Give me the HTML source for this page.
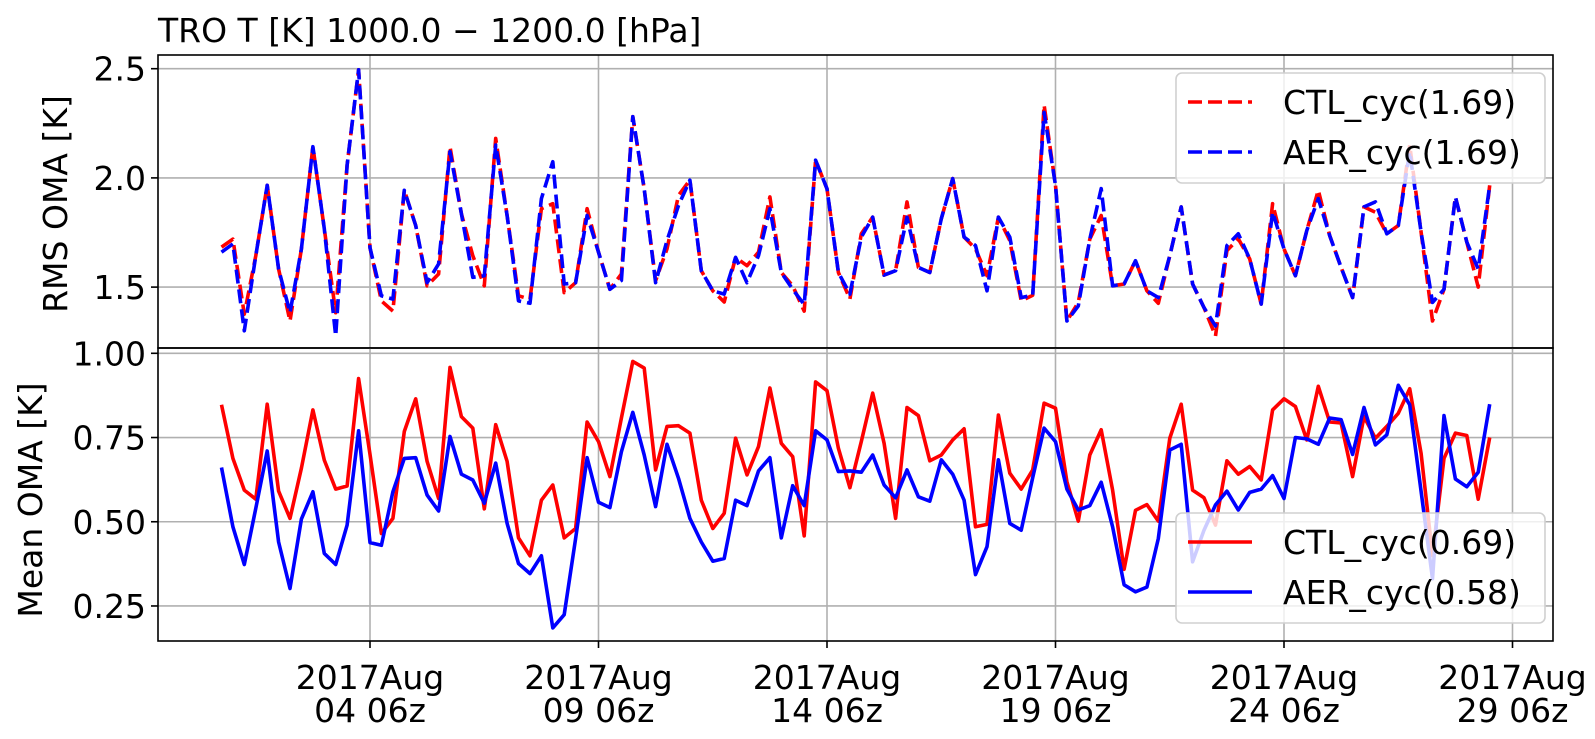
<!DOCTYPE html>
<html><head><meta charset="utf-8"><style>
html,body{margin:0;padding:0;background:#fff;}
svg{display:block;font-family:"DejaVu Sans","Liberation Sans",sans-serif;}
</style></head><body>
<svg id="chart" width="1595" height="739" viewBox="0 0 1595 739" xmlns="http://www.w3.org/2000/svg">
<rect x="0" y="0" width="1595" height="739" fill="#fff"/>
<text x="158" y="42" font-size="33" fill="#000">TRO T [K] 1000.0 − 1200.0 [hPa]</text>
<g id="topPanel"></g>
<g id="botPanel"></g>
</svg>
<script>
const xTickLabels1 = ["2017Aug","2017Aug","2017Aug","2017Aug","2017Aug","2017Aug"];
const xTickLabels2 = ["04 06z","09 06z","14 06z","19 06z","24 06z","29 06z"];
const xTickSteps = [13,33,53,73,93,113];
const rmsTicks = [1.5,2.0,2.5];
const rmsTickLabels = ["1.5","2.0","2.5"];
const meanTicks = [0.25,0.5,0.75,1.0];
const meanTickLabels = ["0.25","0.50","0.75","1.00"];
const ctlRms = [1.683,1.72,1.376,1.644,1.966,1.583,1.345,1.675,2.143,1.767,1.383,2.058,2.495,1.68,1.437,1.39,1.943,1.782,1.506,1.56,2.143,1.836,1.644,1.506,2.181,1.828,1.46,1.445,1.859,1.882,1.475,1.52,1.859,1.66,1.49,1.56,2.28,1.95,
1.529,1.675,1.92,1.99,1.575,1.483,1.432,1.636,1.598,1.66,1.913,1.567,1.506,1.39,2.081,1.95,1.567,1.445,1.744,1.82,1.555,1.575,1.89,1.59,1.567,1.813,1.997,1.729,1.675,1.552,1.82,1.713,1.437,1.463,2.334,1.966,1.345,1.43,1.72,
1.828,1.506,1.514,1.621,1.483,1.426,1.644,1.867,1.514,1.406,1.276,1.667,1.721,1.629,1.422,1.882,1.675,1.552,1.759,1.943,1.736,1.59,1.452,1.867,1.843,1.744,1.782,2.15,1.752,1.345,1.49,1.913,1.706,1.5,1.966];
const aerRms = [1.66,1.698,1.30,1.644,1.966,1.583,1.383,1.675,2.143,1.767,1.276,2.058,2.495,1.68,1.46,1.445,1.943,1.782,1.52,1.606,2.12,1.836,1.545,1.552,2.15,1.828,1.437,1.426,1.905,2.074,1.514,1.52,1.828,1.66,1.49,1.53,2.28,1.95,
1.52,1.713,1.874,1.99,1.575,1.483,1.468,1.636,1.52,1.644,1.859,1.567,1.49,1.42,2.081,1.95,1.567,1.468,1.729,1.82,1.555,1.575,1.82,1.59,1.567,1.813,1.997,1.729,1.69,1.483,1.82,1.729,1.452,1.463,2.30,1.966,1.345,1.414,1.72,
1.951,1.506,1.514,1.621,1.483,1.452,1.644,1.867,1.514,1.406,1.322,1.69,1.744,1.629,1.422,1.844,1.675,1.552,1.759,1.905,1.736,1.59,1.452,1.867,1.89,1.744,1.782,2.12,1.752,1.43,1.49,1.913,1.706,1.583,1.966];
const ctlMean = [0.847,0.688,0.594,0.567,0.849,0.591,0.51,0.659,0.832,0.683,0.597,0.606,0.925,0.70,0.465,0.51,0.768,0.865,0.679,0.569,0.958,0.812,0.778,0.538,0.788,0.679,0.452,0.399,0.564,0.609,0.452,0.48,0.796,0.738,0.634,0.808,0.976,0.956,
0.654,0.783,0.785,0.763,0.564,0.48,0.525,0.748,0.639,0.723,0.897,0.733,0.693,0.458,0.915,0.889,0.718,0.601,0.738,0.882,0.733,0.51,0.839,0.815,0.681,0.698,0.743,0.776,0.485,0.492,0.817,0.644,0.597,0.654,0.852,0.837,0.619,0.502,0.698,
0.773,0.594,0.359,0.534,0.551,0.502,0.748,0.849,0.594,0.571,0.49,0.681,0.641,0.664,0.624,0.832,0.865,0.842,0.743,0.902,0.796,0.793,0.634,0.812,0.748,0.783,0.822,0.895,0.703,0.40,0.688,0.763,0.756,0.567,0.75];
const aerMean = [0.661,0.485,0.373,0.54,0.71,0.44,0.302,0.508,0.589,0.406,0.373,0.49,0.77,0.438,0.43,0.589,0.688,0.69,0.579,0.532,0.753,0.641,0.624,0.555,0.674,0.495,0.376,0.346,0.399,0.185,0.224,0.45,0.69,0.558,0.542,0.708,0.825,0.698,
0.545,0.73,0.629,0.51,0.44,0.383,0.391,0.564,0.548,0.651,0.69,0.452,0.607,0.548,0.77,0.743,0.649,0.651,0.647,0.698,0.609,0.571,0.654,0.574,0.561,0.684,0.641,0.564,0.343,0.426,0.684,0.495,0.475,0.631,0.778,0.738,0.597,0.535,0.548,
0.617,0.485,0.313,0.292,0.306,0.45,0.713,0.73,0.381,0.475,0.55,0.591,0.535,0.587,0.597,0.637,0.569,0.75,0.746,0.73,0.808,0.803,0.7,0.839,0.728,0.758,0.905,0.847,0.59,0.331,0.815,0.627,0.604,0.647,0.849];

const NS="http://www.w3.org/2000/svg";
const L=158,R=1553;
function xs(i){return 370+(i-13)*11.425;}
function yTop(v){return 177.9-(v-2.0)*218.4;}
function yBot(v){return 353.3-(v-1.0)*336.9;}
function mk(tag,attrs,parent){const e=document.createElementNS(NS,tag);for(const k in attrs)e.setAttribute(k,attrs[k]);parent.appendChild(e);return e;}
const topG=document.getElementById('topPanel'), botG=document.getElementById('botPanel');

function panel(g,y0,y1,ticks,labels,yf,title,tcy){
  xTickSteps.forEach((s,k)=>{const x=xs(s);if(x<R){
    const gl=mk('line',{x1:x,x2:x,y1:y0,y2:y1,stroke:'#b0b0b0','stroke-width':1.6},g);
    
    }});
  ticks.forEach((t,k)=>{const y=yf(t);
    const gl=mk('line',{x1:L,x2:R,y1:y,y2:y,stroke:'#b0b0b0','stroke-width':1.6},g);
    
    
    mk('line',{x1:L-7,x2:L,y1:y,y2:y,stroke:'#000','stroke-width':1.6},g);
    const tx=mk('text',{x:L-12,y:y+12,'text-anchor':'end','font-size':33,fill:'#000'},g);
    tx.textContent=labels[k];
    
    });
  const yl=mk('text',{x:0,y:0,'text-anchor':'middle','font-size':33,fill:'#000',transform:`translate(${tcy[0]},${tcy[1]}) rotate(-90)`},g);
  yl.textContent=title;
  
  
}
function series(g,data,yf,color,dash,name){
  const d=data.map((v,i)=>(i?'L':'M')+xs(i).toFixed(1)+' '+yf(v).toFixed(1)).join(' ');
  const p=mk('path',{d:d,fill:'none',stroke:color,'stroke-width':3.6,'stroke-linejoin':'round'},g);
  if(dash)p.setAttribute('stroke-dasharray','14,6');
  
  
}
function legend(g,x,y,w,h,rows,dash){
  const b=mk('rect',{x:x,y:y,width:w,height:h,rx:6,fill:'rgba(255,255,255,0.8)',stroke:'#d0d0d0','stroke-width':1.6},g);
  
  
  rows.forEach((r,k)=>{const cy=y+29+k*50;
    const ln=mk('line',{x1:x+12,x2:x+76,y1:cy,y2:cy,stroke:r[1],'stroke-width':3.6},g);
    if(dash)ln.setAttribute('stroke-dasharray','14,6');
    
    
    const t=mk('text',{x:x+107,y:cy+12,'font-size':33,fill:'#000'},g);
    t.textContent=r[0];
    
    });
}
panel(topG,55,348,rmsTicks,rmsTickLabels,yTop,'RMS OMA [K]',[67,204]);
const cpT=mk('clipPath',{id:'cpT'},topG);mk('rect',{x:L,y:55,width:R-L,height:293},cpT);
const gT=mk('g',{'clip-path':'url(#cpT)'},topG);
series(gT,ctlRms,yTop,'#ff0000',true,'ctl-rms-line');
series(gT,aerRms,yTop,'#0000ff',true,'aer-rms-line');
legend(topG,1176,73,369,110,[['CTL_cyc(1.69)','#ff0000'],['AER_cyc(1.69)','#0000ff']],true);
mk('rect',{x:L,y:55,width:R-L,height:293,fill:'none',stroke:'#000','stroke-width':1.6},topG);

panel(botG,348,641,meanTicks,meanTickLabels,yBot,'Mean OMA [K]',[42,500]);
const cpB=mk('clipPath',{id:'cpB'},botG);mk('rect',{x:L,y:348,width:R-L,height:293},cpB);
const gB=mk('g',{'clip-path':'url(#cpB)'},botG);
series(gB,ctlMean,yBot,'#ff0000',false,'ctl-mean-line');
series(gB,aerMean,yBot,'#0000ff',false,'aer-mean-line');
legend(botG,1176,513,369,110,[['CTL_cyc(0.69)','#ff0000'],['AER_cyc(0.58)','#0000ff']],false);
mk('rect',{x:L,y:348,width:R-L,height:293,fill:'none',stroke:'#000','stroke-width':1.6},botG);

xTickSteps.forEach((s,k)=>{const x=xs(s);
  mk('line',{x1:x,x2:x,y1:641,y2:648,stroke:'#000','stroke-width':1.6},botG);
  const t1=mk('text',{x:x,y:689,'text-anchor':'middle','font-size':33,fill:'#000'},botG);
  t1.textContent=xTickLabels1[k];
  
  
  const t2=mk('text',{x:x,y:722,'text-anchor':'middle','font-size':33,fill:'#000'},botG);
  t2.textContent=xTickLabels2[k];
  
  });
</script>
</body></html>
